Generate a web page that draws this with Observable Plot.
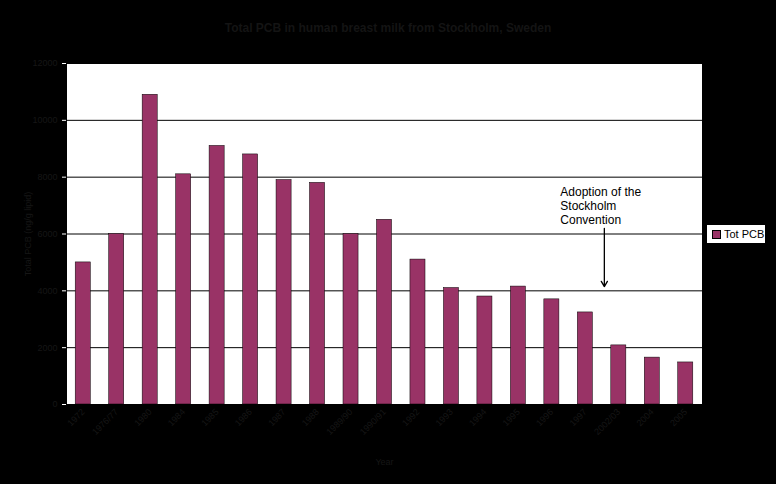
<!DOCTYPE html>
<html>
<head>
<meta charset="utf-8">
<script src="https://cdn.jsdelivr.net/npm/d3@7"></script>
<script src="https://cdn.jsdelivr.net/npm/@observablehq/plot@0.6"></script>
<style>
  html, body { margin: 0; padding: 0; background: #000; }
  #wrap { position: relative; width: 776px; height: 484px; background: #000; overflow: hidden; }
  #title { position: absolute; left: 0; width: 776px; top: 21px; text-align: center;
    font: bold 12px "Liberation Sans", Arial, sans-serif; color: #141414; }
  #legend { position: absolute; left: 707px; top: 225px; width: 58px; height: 18px; background: #fff;
    font: 11px "Liberation Sans", Arial, sans-serif; color: #000; display: flex; align-items: center; }
  #legend .sw { width: 7px; height: 7px; background: #993366; border: 1px solid #000; margin: 0 3px 0 5px; }
</style>
</head>
<body>
<div id="wrap">
  <div id="title">Total PCB in human breast milk from Stockholm, Sweden</div>
  <div id="legend"><span class="sw"></span><span>Tot PCB</span></div>
</div>
<script>
const years = ["1972", "1976/77", "1980", "1984", "1985", "1986", "1987", "1988", "1989/90", "1990/91",
  "1992", "1993", "1994", "1995", "1996", "1997", "2002/03", "2004", "2005"];
const totPCB = [5000, 6000, 10900, 8100, 9100, 8800, 7900, 7800, 6000, 6500,
  5100, 4100, 3800, 4150, 3700, 3240, 2080, 1650, 1480];
const yTicks = [0, 2000, 4000, 6000, 8000, 10000, 12000];
const annotationLines = ["Adoption of the", "Stockholm", "Convention"];

const data = years.map((y, i) => ({year: y, value: totPCB[i]}));
const dark = "#161616";

const chart = Plot.plot({
  width: 776,
  height: 484,
  marginLeft: 66,
  marginRight: 74,
  marginTop: 63,
  marginBottom: 80,
  style: {background: "#000", color: dark, fontFamily: "'Liberation Sans', Arial, sans-serif", fontSize: "9px"},
  x: {domain: years, paddingInner: 0.55, paddingOuter: 0.275, round: false, label: null},
  y: {domain: [0, 12000], label: null},
  marks: [
    Plot.frame({fill: "#fff", stroke: "#000"}),
    Plot.ruleY(yTicks, {stroke: "#000", strokeWidth: 1}),
    Plot.barY(data, {x: "year", y: "value", fill: "#993366", stroke: "#000", strokeWidth: 0.5}),
    Plot.axisY({ticks: yTicks, tickFormat: d => String(d), tickSize: 4, stroke: "#fff", color: dark,
      label: "Total PCB (ng/g lipid)", labelAnchor: "center", labelOffset: 42, labelArrow: "none", fontSize: 9}),
    Plot.axisX({tickRotate: -45, tickSize: 0, tickPadding: 6, color: dark, label: "Year",
      labelAnchor: "center", labelOffset: 60, labelArrow: "none", fontSize: 9}),
    Plot.text([annotationLines.join("\n")], {x: () => years[15], y: () => 7700, dx: -25,
      textAnchor: "start", lineAnchor: "top", lineHeight: 1.17, fill: "#000", fontSize: 12,
      fontFamily: "'Liberation Sans', Arial, sans-serif"}),
    Plot.arrow([{x: years[15], y1: 6200, y2: 4150}], {x: "x", y1: "y1", y2: "y2", dx: 19,
      stroke: "#000", strokeWidth: 1.3, headLength: 7})
  ]
});
document.getElementById("wrap").prepend(chart);
chart.style.position = "absolute";
chart.style.left = "0";
chart.style.top = "0";
</script>
</body>
</html>
